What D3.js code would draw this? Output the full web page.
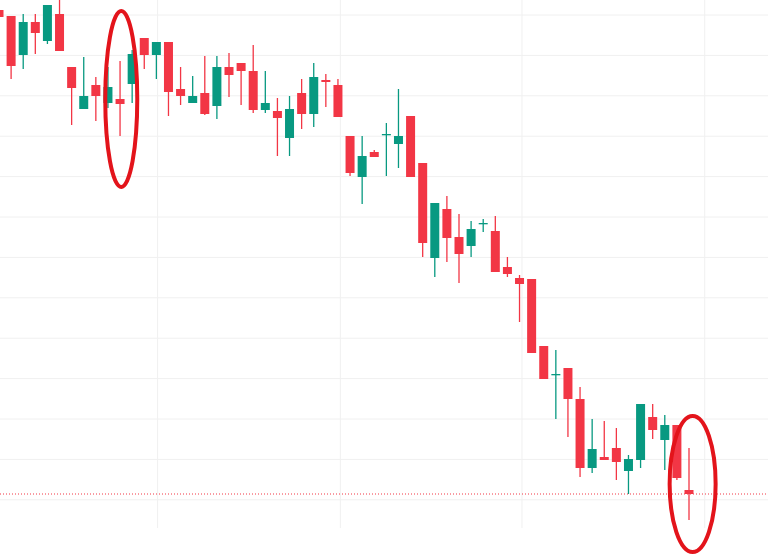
<!DOCTYPE html>
<meta charset="utf-8">
<style>
body { margin: 0; background: #fff; }
</style>
<svg width="768" height="556"></svg>
<script src="https://cdn.jsdelivr.net/npm/d3@7/dist/d3.min.js"></script>
<script>

// prices (arbitrary units, higher = up)
var opens  = [546,540,501,534,515,542,489,447,471,453,457,472,518,501,514,467,453,463,450,489,493,485,446,445,418,463,442,476,471,420,379,404,421,412,440,393,298,347,319,310,332,325,289,278,277,210,181,188,157,88,99,108,85,96,139,116,131,66]
var closes = [539,490,534,523,551,505,468,460,460,469,452,502,501,514,464,460,460,442,489,481,485,446,453,438,447,442,479,474,439,383,400,399,422,420,379,313,353,318,302,327,333,284,282,272,203,177,182,157,88,107,96,94,97,152,126,131,78,62]
var highs  = [546,540,542,542,551,556,489,499,479,489,495,506,518,514,514,489,480,500,500,503,493,511,485,458,460,477,493,482,477,420,420,406,433,467,440,393,353,360,342,335,337,340,299,281,277,210,206,188,169,137,135,128,101,152,152,141,131,108]
var lows   = [539,477,487,502,512,505,431,447,435,448,420,453,487,477,440,451,453,441,437,459,451,443,443,400,400,427,429,449,439,380,352,399,380,388,379,299,279,294,273,299,324,284,279,234,203,177,137,119,79,83,96,76,62,88,117,86,76,36]

var svg = d3.select("svg"),
    width = +svg.attr("width"),
    height = +svg.attr("height");

var x = d3.scaleLinear().domain([0, 57]).range([-1, 689]);
var y = d3.scaleLinear().domain([0, 556]).range([556, 0]);

var red = "#f23645", green = "#089981";

// grid
var gridY = d3.range(0, 13).map(function(k) { return 556 - (15 + 40.4 * k); });
var gridX = [13.1, 28.2, 43.2, 58.3];

svg.selectAll(".gy").data(gridY).enter().append("line")
    .attr("x1", 0).attr("x2", width)
    .attr("y1", function(d) { return y(d); }).attr("y2", function(d) { return y(d); })
    .attr("stroke", "#f0f0f0").attr("stroke-width", 1);

svg.selectAll(".gx").data(gridX).enter().append("line")
    .attr("y1", 0).attr("y2", 528)
    .attr("x1", function(d) { return x(d); }).attr("x2", function(d) { return x(d); })
    .attr("stroke", "#f0f0f0").attr("stroke-width", 1);

var candles = opens.map(function(o, i) {
  return { i: i, o: o, c: closes[i], h: highs[i], l: lows[i] };
});

var g = svg.selectAll(".candle").data(candles).enter().append("g");

g.append("line")
    .attr("x1", function(d) { return x(d.i); }).attr("x2", function(d) { return x(d.i); })
    .attr("y1", function(d) { return y(d.h); }).attr("y2", function(d) { return y(d.l); })
    .attr("stroke", function(d) { return d.c >= d.o ? green : red; })
    .attr("stroke-width", 1.3);

g.append("rect")
    .attr("x", function(d) { return x(d.i) - 4.5; })
    .attr("width", 9)
    .attr("y", function(d) { return y(Math.max(d.o, d.c)); })
    .attr("height", function(d) { return Math.max(1.3, Math.abs(y(d.o) - y(d.c))); })
    .attr("fill", function(d) { return d.c >= d.o ? green : red; });

// last price line
svg.append("line")
    .attr("x1", 0).attr("x2", width)
    .attr("y1", y(62)).attr("y2", y(62))
    .attr("stroke", red).attr("stroke-width", 1)
    .attr("stroke-dasharray", "1,2");

// annotation ellipses
var marks = [{ i: 10.1, p: 457, rx: 16, ry: 88 }, { i: 57.3, p: 72, rx: 23, ry: 68 }];
svg.selectAll(".mark").data(marks).enter().append("ellipse")
    .attr("cx", function(d) { return x(d.i); })
    .attr("cy", function(d) { return y(d.p); })
    .attr("rx", function(d) { return d.rx; })
    .attr("ry", function(d) { return d.ry; })
    .attr("fill", "none")
    .attr("stroke", "#e3141b")
    .attr("stroke-width", 4);

</script>
